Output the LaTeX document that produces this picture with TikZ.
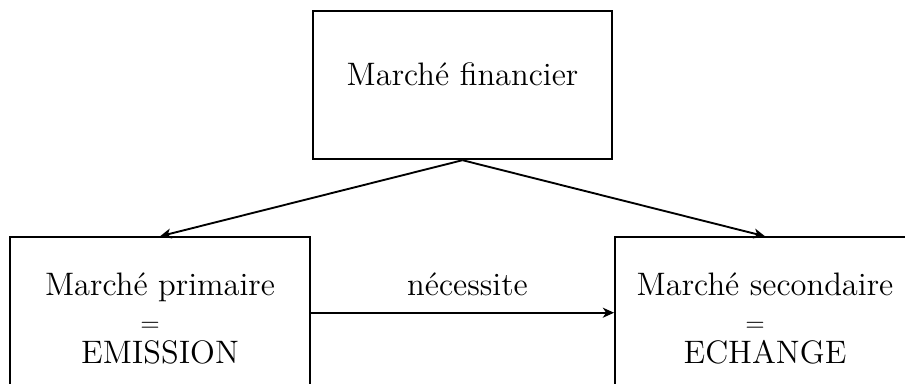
\documentclass[tikz,border=0pt]{standalone}
\usetikzlibrary{arrows.meta}

\tikzset{every picture/.style={line width=0.75pt}}
\tikzset{
  marche/.style={draw, inner sep=0pt, minimum width=120pt,
    font=\fontsize{13}{14.4}\selectfont},
  fleche/.style={-{Stealth[length=4.5pt,width=4pt,inset=1.3pt]}},
}
\newcommand{\egal}{{\fontsize{10.3}{14.4}\selectfont$=$}\kern8pt}

\begin{document}
\begin{tikzpicture}[x=0.4pt,y=0.4pt,yscale=-1,xscale=1]
	\useasboundingbox (0,0) rectangle (905,383);
	\clip (0,0) rectangle (905,383);

	% Text Node
	\node[marche, minimum width=119.6pt, minimum height=59.4pt, text height=8.6pt, text depth=8.6pt] (financier) at (462.5,85) {Marché financier};
	% Text Node
	\node[marche, minimum height=60.4pt, text height=41pt, text depth=0pt, align=center] (primaire) at (160,312.7) {Marché primaire\\ \egal\\[-1.6pt] EMISSION};
	% Text Node
	\node[marche, minimum height=60.4pt, text height=41pt, text depth=0pt, align=center] (secondaire) at (765,312.7) {Marché secondaire\\ \egal\\[-1.6pt] ECHANGE};

	%Straight Lines
	\draw[fleche] (financier.south) -- (primaire.north);
	\draw[fleche] (financier.south) -- (secondaire.north);
	%Straight Lines
	\draw[fleche] (primaire) -- node[above=3pt, xshift=2pt, font=\fontsize{13}{14.4}\selectfont] (necessite) {nécessite} (secondaire);

\end{tikzpicture}
\end{document}
